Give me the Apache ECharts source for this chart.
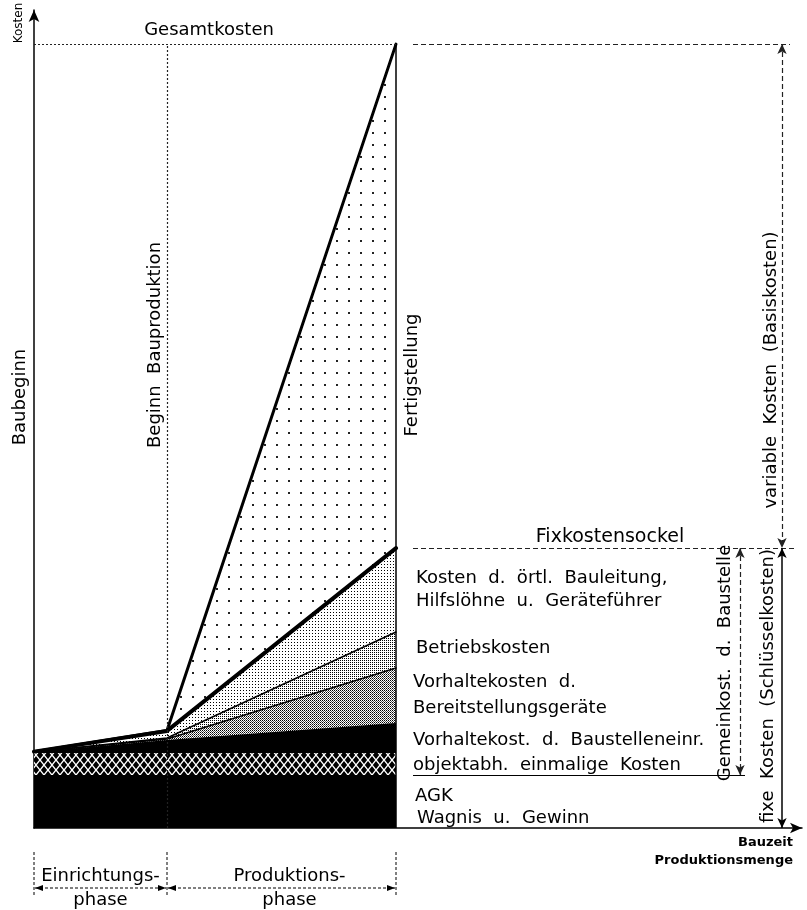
<!DOCTYPE html>
<html><head><meta charset="utf-8">
<script src="https://cdn.jsdelivr.net/npm/echarts@6/dist/echarts.min.js"></script>
<style>html,body{margin:0;padding:0;background:#fff}#c{width:807px;height:910px}</style>
</head><body><div id="c"></div>
<script>
// ---- data (cost units, Gesamtkosten ≈ 100; time in arbitrary units) ----
const milestones = ['Baubeginn', 'Beginn Bauproduktion', 'Fertigstellung'];
const milestoneX = [0, 13.3, 36.2];
const agkWagnis             = [6.76, 6.76, 6.76];
const einmaligeKosten       = [2.8, 2.8, 2.8];
const vorhaltBaustelleneinr = [0.13, 1.66, 3.83];
const vorhaltBereitstellung = [0, 0.13, 7.0];
const betriebskosten        = [0, 0.13, 4.6];
const bauleitung            = [0.05, 0.9, 10.7];
const variableKosten        = [0, 0.05, 64.26];
const layerNames = ['AGK / Wagnis u. Gewinn', 'objektabh. einmalige Kosten', 'Vorhaltekost. d. Baustelleneinr.',
  'Vorhaltekosten d. Bereitstellungsgeräte', 'Betriebskosten', 'Kosten d. örtl. Bauleitung, Hilfslöhne u. Geräteführer', 'variable Kosten'];
const layerValues = [agkWagnis, einmaligeKosten, vorhaltBaustelleneinr, vorhaltBereitstellung, betriebskosten, bauleitung, variableKosten];

// ---- styles ----
function pat(w, h, draw) {
  const c = document.createElement('canvas'); c.width = w; c.height = h;
  const g = c.getContext('2d'); g.fillStyle = '#fff'; g.fillRect(0, 0, w, h); g.fillStyle = '#000';
  draw(g); return { image: c, repeat: 'repeat' };
}
const fills = [
  '#000',
  pat(8, 10, g => { g.fillRect(0, 0, 8, 10); g.strokeStyle = '#fff'; g.lineWidth = 1.4; g.beginPath();
    g.moveTo(0, 0); g.lineTo(8, 10); g.moveTo(8, 0); g.lineTo(0, 10); g.stroke(); }),
  '#000',
  pat(2, 2, g => { g.fillRect(0, 0, 1, 1); g.fillStyle = '#555'; g.fillRect(1, 1, 1, 1); }),
  pat(2, 2, g => { g.fillRect(0, 0, 1, 1); }),
  pat(3, 3, g => { g.fillRect(0, 0, 1, 1); }),
  pat(12, 12, g => { g.fillStyle = '#222'; g.fillRect(0, 0, 2, 2); })
];
const lineWidths = [0, 0, 0, 1.5, 1.5, 4, 3];
const FONT = '"DejaVu Sans", sans-serif';

const n = milestoneX.length;
// cumulative (stacked) tops of each layer
const cum = [];
layerValues.forEach((vals, i) => cum.push(vals.map((v, j) => v + (i ? cum[i - 1][j] : 0))));
const gesamt = cum[cum.length - 1][n - 1];
const fixTop = cum[5][n - 1];
const agkTop = cum[0][n - 1];

const chart = echarts.init(document.getElementById('c'));

const areaSeries = [];
for (let i = layerValues.length - 1; i >= 0; i--) {
  areaSeries.push({
    name: layerNames[i], type: 'line', symbol: 'none', silent: true, animation: false, z: 2,
    data: milestoneX.map((x, j) => [x, cum[i][j]]),
    lineStyle: { width: 0, opacity: 0 }, areaStyle: { color: fills[i], opacity: 1, origin: 'start' }
  });
}
const lineSeries = [];
layerValues.forEach((vals, i) => {
  if (!lineWidths[i]) return;
  lineSeries.push({
    name: layerNames[i] + ' (Linie)', type: 'line', symbol: 'none', silent: true, animation: false, z: 3,
    data: milestoneX.map((x, j) => [x, cum[i][j]]),
    lineStyle: { color: '#000', width: lineWidths[i], cap: 'round', join: 'round' }
  });
});

const ml = (a, b, ls, sa, sb) => [
  { coord: a, symbol: sa || 'none', symbolSize: [7, 10], lineStyle: ls },
  { coord: b, symbol: sb || 'none', symbolSize: [7, 10] }
];
const dotted = { color: '#222', width: 1.2, type: [2, 2] };
const dashed = { color: '#222', width: 1.2, type: [5, 3] };
const solid = { color: '#000', width: 1.5, type: 'solid' };

const hostSeries = {
  type: 'line', data: [[0, 0]], symbol: 'none', lineStyle: { opacity: 0 }, silent: true, animation: false, z: 5,
  markLine: {
    silent: true, animation: false, label: { show: false }, symbol: 'none',
    data: [
      ml([milestoneX[1], 0], [milestoneX[1], gesamt], dotted),
      ml([milestoneX[2], 0], [milestoneX[2], gesamt], solid),
      ml([0, gesamt], [milestoneX[2], gesamt], dotted),
      ml([37.9, gesamt], [75.6, gesamt], dashed),
      ml([37.9, fixTop], [76.2, fixTop], dashed),
      ml([37.9, agkTop], [71.1, agkTop], { color: '#000', width: 1, type: 'solid' }),
      ml([74.8, gesamt], [74.8, fixTop], dashed, 'arrow', 'arrow'),
      ml([74.8, fixTop], [74.8, 0], solid, 'arrow', 'arrow'),
      ml([70.6, fixTop], [70.6, agkTop], dashed, 'arrow', 'arrow')
    ]
  }
};

chart.setOption({
  animation: false,
  backgroundColor: '#fff',
  grid: { left: 34, right: 5, top: 10, bottom: 82, containLabel: false },
  xAxis: { type: 'value', min: 0, max: 76.8, axisLine: { show: true, symbol: ['none', 'arrow'], symbolSize: [8, 12],
    lineStyle: { color: '#000', width: 1.5 } }, axisTick: { show: false }, axisLabel: { show: false }, splitLine: { show: false } },
  yAxis: { type: 'value', min: 0, max: 104.3, axisLine: { show: true, symbol: ['none', 'arrow'], symbolSize: [8, 12],
    lineStyle: { color: '#000', width: 1.5 } }, axisTick: { show: false }, axisLabel: { show: false }, splitLine: { show: false } },
  series: [...areaSeries, ...lineSeries, hostSeries]
});

// ---- annotations ----
const P = (x, y) => chart.convertToPixel({ gridIndex: 0 }, [x, y]);
const mctx = document.createElement('canvas').getContext('2d');
const tw = (t, s, w) => { mctx.font = `${w || 'normal'} ${s}px ${FONT}`; return mctx.measureText(t).width; };
const txt = (text, x, y, o = {}) => ({
  type: 'text', x, y, silent: true, z: 10,
  style: { text, fill: '#000', fontSize: o.s || 18, fontFamily: FONT, fontWeight: o.w || 'normal',
    align: o.a || 'left', verticalAlign: 'middle' }
});
// vertical text reading bottom-to-top, centred at (cx, cy)
const vtxt = (text, cx, cy, o = {}) => {
  const s = o.s || 18, w = tw(text, s, o.w);
  return { type: 'text', x: cx, y: cy + w / 2, rotation: Math.PI / 2, silent: true, z: 10,
    style: { text, fill: '#000', fontSize: s, fontFamily: FONT, fontWeight: o.w || 'normal', align: 'left', verticalAlign: 'middle' } };
};
const g = [];
const base = P(0, 0)[1];
const [x0, x1, x2] = milestoneX.map(x => P(x, 0)[0]);
const topY = P(0, gesamt)[1], fixY = P(0, fixTop)[1];

g.push(vtxt('Kosten', x0 - 15, 23, { s: 12 }));
g.push(txt('Gesamtkosten', (x0 + x2) / 2 - 6, topY - 14, { a: 'center', s: 18 }));
g.push(vtxt(milestones[0], x0 - 14, 397));
g.push(vtxt('Beginn  Bauproduktion', x1 - 12, 345));
g.push(vtxt(milestones[2], x2 + 16, 375));

g.push(txt('Fixkostensockel', 610, fixY - 11, { a: 'center', s: 19 }));
const lx = x2 + 20;
g.push(txt('Kosten  d.  örtl.  Bauleitung,', lx, 578));
g.push(txt('Hilfslöhne  u.  Geräteführer', lx, 601));
g.push(txt('Betriebskosten', lx, 648));
g.push(txt('Vorhaltekosten  d.', lx - 3, 682));
g.push(txt('Bereitstellungsgeräte', lx - 3, 708));
g.push(txt('Vorhaltekost.  d.  Baustelleneinr.', lx - 3, 740));
g.push(txt('objektabh.  einmalige  Kosten', lx - 3, 765));
g.push(txt('AGK', lx - 1, 796));
g.push(txt('Wagnis  u.  Gewinn', lx + 1, 818));

g.push(vtxt('variable  Kosten  (Basiskosten)', 771, 370));
g.push(vtxt('fixe  Kosten  (Schlüsselkosten)', 768, 686));
g.push(vtxt('Gemeinkost.  d.  Baustelle', 725, 663));

g.push(txt('Bauzeit', 793, base + 15, { a: 'right', s: 13, w: 'bold' }));
g.push(txt('Produktionsmenge', 793, base + 33, { a: 'right', s: 13, w: 'bold' }));

// phase brackets
[x0, x1, x2].forEach(x => g.push({ type: 'line', silent: true, shape: { x1: x, y1: base + 24, x2: x, y2: base + 69 },
  style: { stroke: '#000', lineWidth: 1, lineDash: [3, 2] } }));
const ay = base + 60;
[[x0, x1], [x1, x2]].forEach(([a, b]) => {
  g.push({ type: 'line', silent: true, shape: { x1: a + 1, y1: ay, x2: b - 1, y2: ay }, style: { stroke: '#000', lineWidth: 1, lineDash: [3, 2] } });
  g.push({ type: 'polygon', silent: true, shape: { points: [[a + 1, ay], [a + 9, ay - 3], [a + 9, ay + 3]] }, style: { fill: '#000' } });
  g.push({ type: 'polygon', silent: true, shape: { points: [[b - 1, ay], [b - 9, ay - 3], [b - 9, ay + 3]] }, style: { fill: '#000' } });
});
g.push(txt('Einrichtungs-', (x0 + x1) / 2, base + 48, { a: 'center' }));
g.push(txt('phase', (x0 + x1) / 2, base + 72, { a: 'center' }));
g.push(txt('Produktions-', (x1 + x2) / 2 + 8, base + 48, { a: 'center' }));
g.push(txt('phase', (x1 + x2) / 2 + 8, base + 72, { a: 'center' }));

chart.setOption({ graphic: g });
</script></body></html>
